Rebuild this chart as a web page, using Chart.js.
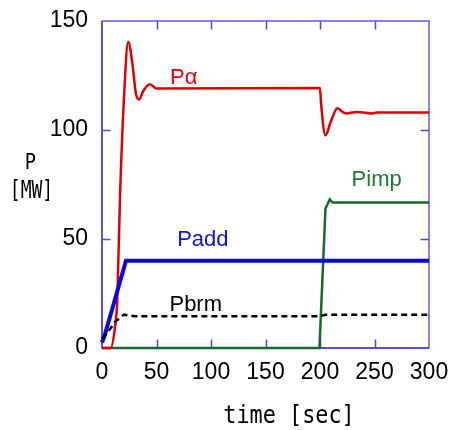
<!DOCTYPE html>
<html>
<head>
<meta charset="utf-8">
<script src="https://cdn.jsdelivr.net/npm/chart.js@4"></script>
<style>
  html, body { margin: 0; padding: 0; background: #ffffff; }
  #wrap { width: 449px; height: 430px; }
</style>
</head>
<body>
<div id="wrap"><canvas id="c" width="449" height="430"></canvas></div>
<script>
// ---- data ----
const xTicks = [0, 50, 100, 150, 200, 250, 300];
const yTicks = [0, 50, 100, 150];

const paTime  = [0, 8, 12, 14, 16.5, 20.5, 24, 28, 31, 34, 38, 44, 50, 200, 201, 205, 210, 216, 220, 224, 233, 240, 248, 252, 300];
const paValue = [0, 0, 10, 22, 69, 118, 140.5, 130, 117, 114, 118, 121, 119, 119.3, 112, 97.5, 104, 110, 108.5, 107.6, 108.3, 108, 107.6, 108, 108];

const paddTime  = [0, 2, 22, 300];
const paddValue = [2.5, 5, 40, 40];

const pbrmTime  = [0, 5, 12, 20, 30, 200, 205, 300];
const pbrmValue = [4.5, 7, 12, 15.3, 14.6, 14.6, 15.2, 15.2];

const pimpTime  = [0, 199.5, 205, 209, 211.5, 300];
const pimpValue = [0, 0, 64, 68.2, 66.7, 66.7];

const seriesLabels = ['P\u03b1', 'Padd', 'Pbrm', 'Pimp'];
const labelTime    = [75, 92.5, 86, 252];
const labelValue   = [121, 46.7, 16.8, 74.2];
const labelColors  = ['#e00000', '#1010e0', '#000000', '#1b7a2e'];

const pts = (t, v) => t.map((x, i) => ({ x: x, y: v[i] }));

const noPad = s => { s.paddingLeft = 0; s.paddingRight = 0; s.paddingTop = 0; s.paddingBottom = 0; };

const frame = {
  id: 'frame',
  beforeDatasetsDraw(chart) {
    const { ctx, chartArea: a, scales } = chart;
    ctx.save();
    ctx.lineWidth = 1.5;
    // top / right lighter blue
    ctx.strokeStyle = '#5a5ae2';
    ctx.beginPath();
    ctx.moveTo(a.left, a.top); ctx.lineTo(a.right, a.top); ctx.lineTo(a.right, a.bottom);
    ctx.stroke();
    // left / bottom darker blue
    ctx.strokeStyle = '#1c1cd4';
    ctx.beginPath();
    ctx.moveTo(a.left, a.top); ctx.lineTo(a.left, a.bottom); ctx.lineTo(a.right, a.bottom);
    ctx.stroke();
    // inward ticks
    const L = 8.5;
    ctx.strokeStyle = '#4a4ade';
    ctx.lineWidth = 1.5;
    ctx.beginPath();
    xTicks.slice(1, -1).forEach(v => {
      const px = Math.round(scales.x.getPixelForValue(v)) + 0.5;
      ctx.moveTo(px, a.bottom); ctx.lineTo(px, a.bottom - L);
      ctx.moveTo(px, a.top); ctx.lineTo(px, a.top + L);
    });
    yTicks.slice(1, -1).forEach(v => {
      const py = Math.round(scales.y.getPixelForValue(v)) + 0.5;
      ctx.moveTo(a.left, py); ctx.lineTo(a.left + L, py);
      ctx.moveTo(a.right, py); ctx.lineTo(a.right - L, py);
    });
    ctx.stroke();
    ctx.restore();
  },
  afterDatasetsDraw(chart) {
    const { ctx, scales } = chart;
    ctx.save();
    ctx.font = '22px "Liberation Sans", Arial, sans-serif';
    ctx.textAlign = 'center';
    ctx.textBaseline = 'alphabetic';
    seriesLabels.forEach((s, i) => {
      ctx.fillStyle = labelColors[i];
      ctx.fillText(s, scales.x.getPixelForValue(labelTime[i]), scales.y.getPixelForValue(labelValue[i]));
    });
    // axis titles
    ctx.fillStyle = '#000000';
    ctx.save();
    ctx.translate(289, 423);
    ctx.scale(0.91, 1);
    ctx.font = '24px "DejaVu Sans Mono", monospace';
    ctx.fillText('time [sec]', 0, 0);
    ctx.restore();
    ctx.save();
    ctx.translate(30.5, 169);
    ctx.scale(0.85, 1);
    ctx.font = '22px "DejaVu Sans Mono", monospace';
    ctx.fillText('P', 0, 0);
    ctx.restore();
    ctx.save();
    ctx.translate(31.5, 198);
    ctx.scale(0.75, 1);
    ctx.font = '24px "DejaVu Sans Mono", monospace';
    ctx.fillText('[MW]', 0, 0);
    ctx.restore();
    ctx.restore();
  }
};

new Chart(document.getElementById('c'), {
  type: 'line',
  data: {
    datasets: [
      { label: 'Pbrm', data: pts(pbrmTime, pbrmValue), borderColor: '#000000', borderWidth: 2.5,
        borderDash: [6, 4], pointRadius: 0, tension: 0, order: 0, clip: false },
      { label: 'Padd', data: pts(paddTime, paddValue), borderColor: '#0808dc', borderWidth: 4,
        pointRadius: 0, tension: 0, order: 1, clip: false },
      { label: 'P\u03b1', data: pts(paTime, paValue), borderColor: '#e00000', borderWidth: 2.5,
        pointRadius: 0, cubicInterpolationMode: 'monotone', order: 2, clip: false },
      { label: 'Pimp', data: pts(pimpTime, pimpValue), borderColor: '#15692a', borderWidth: 2.5,
        pointRadius: 0, tension: 0, order: 3, clip: false }
    ]
  },
  options: {
    responsive: false,
    animation: false,
    devicePixelRatio: 1,
    layout: { padding: { top: 21, right: 20, left: 0, bottom: 0 } },
    plugins: { legend: { display: false }, tooltip: { enabled: false } },
    scales: {
      x: {
        type: 'linear', min: 0, max: 300,
        afterBuildTicks: s => { s.ticks = xTicks.map(v => ({ value: v })); },
        afterFit: s => { s.height = 82; noPad(s); },
        grid: { display: false }, border: { display: false },
        ticks: { color: '#000', padding: 3, maxRotation: 0,
                 font: { family: '"Liberation Sans", Arial, sans-serif', size: 23 } }
      },
      y: {
        type: 'linear', min: 0, max: 150,
        afterBuildTicks: s => { s.ticks = yTicks.map(v => ({ value: v })); },
        afterFit: s => { s.width = 102; noPad(s); },
        grid: { display: false }, border: { display: false },
        ticks: { color: '#000', padding: 6,
                 font: { family: '"Liberation Sans", Arial, sans-serif', size: 23 } }
      }
    }
  },
  plugins: [frame]
});
</script>
</body>
</html>
